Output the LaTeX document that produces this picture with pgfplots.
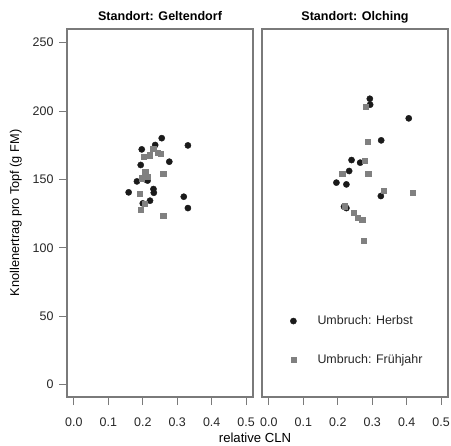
\documentclass[border=0pt]{standalone}
\usepackage{pgfplots}
\pgfplotsset{compat=1.18}
\usepackage{fontspec}
\setmainfont{Liberation Sans}
\definecolor{ptblack}{HTML}{1A1A1A}
\definecolor{ptgray}{HTML}{808080}
\definecolor{frame}{HTML}{7A7A7A}
\pgfplotsset{
  panel/.style={
    scale only axis,
    width=186bp, height=368bp,
    xmin=-0.02, xmax=0.52,
    ymin=-9, ymax=260,
    xtick={0,0.1,0.2,0.3,0.4,0.5},
    xticklabels={0.0,0.1,0.2,0.3,0.4,0.5},
    ytick={0,50,100,150,200,250},
    /pgf/number format/assume math mode=true,
    tick align=outside,
    major tick length=8bp,
    xtick pos=bottom, ytick pos=left,
    axis line style={frame, line width=1.3bp},
    every tick/.style={frame, line width=1.1bp},
    tick label style={font=\fontsize{12.5}{14}\selectfont, text=black!85},
    xticklabel style={yshift=-9.5bp},
    yticklabel style={xshift=-2bp},
    clip=false,
  },
  herbst/.style={only marks, mark=*, mark size=3.1bp, color=ptblack, mark options={fill=ptblack, draw=ptblack}},
  fruh/.style={only marks, mark=square*, mark size=2.6bp, color=ptgray, mark options={fill=ptgray, draw=ptgray}},
}
\begin{document}
\begin{tikzpicture}[x=1bp,y=1bp]
\useasboundingbox (0,0) rectangle (451,446);
\begin{axis}[panel, at={(67bp,49bp)}, anchor=south west,
  ylabel={Knollenertrag pro Topf (g FM)},
  ylabel style={font=\fontsize{12.8}{15}\selectfont, at={(axis description cs:-0.275,0.5)}, rotate=0, anchor=center},
  xlabel={relative CLN},
  xlabel style={font=\fontsize{13.2}{15}\selectfont, at={(axis description cs:1.011,-0.112)}, anchor=center},
]
\node[font=\bfseries\fontsize{12.6}{14}\selectfont, anchor=base] at (axis description cs:0.5,1.023) {Standort: Geltendorf};
\addplot[herbst] coordinates {
(0.255,180.2) (0.236,175.2) (0.331,174.9) (0.197,172.0) (0.277,163.0)
(0.194,160.6) (0.183,148.6) (0.208,150.0) (0.214,149.2) (0.159,140.6)
(0.231,143.0) (0.232,140.3) (0.319,137.4) (0.221,134.5) (0.200,132.5)
(0.331,129.1)
};
\addplot[fruh] coordinates {
(0.230,172.7) (0.243,169.4) (0.252,169.0) (0.220,167.8) (0.203,166.4)
(0.207,155.7) (0.198,151.0) (0.215,151.8) (0.259,154.2) (0.190,139.6)
(0.205,132.5) (0.194,127.7) (0.259,123.8)
};
\end{axis}
\begin{axis}[panel, at={(262bp,49bp)}, anchor=south west,
  ytick=\empty,
  legend style={at={(axis description cs:0.135,0.232)}, anchor=north west, draw=none, fill=none,
    row sep=24bp, column sep=19bp, font=\fontsize{12.5}{14}\selectfont, text=black!85},
  legend cell align=left,
]
\node[font=\bfseries\fontsize{12.6}{14}\selectfont, anchor=base] at (axis description cs:0.5,1.023) {Standort: Olching};
\addplot[herbst] coordinates {
(0.293,209.0) (0.294,204.7) (0.406,194.7) (0.326,178.6) (0.240,164.2)
(0.265,162.3) (0.233,156.2) (0.196,147.7) (0.225,146.4) (0.325,137.9)
(0.218,130.1) (0.225,129.1)
};
\addlegendentry{Umbruch: Herbst}
\addplot[fruh] coordinates {
(0.282,203.4) (0.287,177.4) (0.277,163.7) (0.213,154.5) (0.288,154.0)
(0.334,141.6) (0.417,140.4) (0.220,130.4) (0.246,125.7) (0.257,122.3)
(0.271,120.6) (0.275,105.3)
};
\addlegendentry{Umbruch: Frühjahr}
\end{axis}
\end{tikzpicture}
\end{document}
